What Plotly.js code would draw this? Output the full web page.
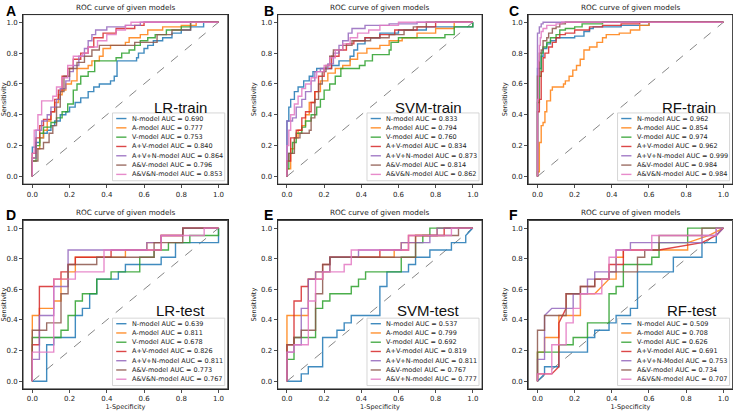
<!DOCTYPE html>
<html>
<head>
<meta charset="utf-8">
<script src="https://cdn.plot.ly/plotly-3.0.1.min.js"></script>
<style>
  html, body { margin: 0; padding: 0; background: #fff; }
  #chart { width: 733px; height: 412px; }
</style>
</head>
<body>
<div id="chart"></div>
<script>
// ---- data ----
const colors = ["#1f77b4", "#ff7f0e", "#2ca02c", "#d62728", "#9467bd", "#8c564b", "#e377c2"];
const panelLetters = ["A", "B", "C", "D", "E", "F"];
const panelTags = ["LR-train", "SVM-train", "RF-train", "LR-test", "SVM-test", "RF-test"];
const panelTitle = "ROC curve of given models";
const tickVals = [0, 0.2, 0.4, 0.6, 0.8, 1.0];
const diagX = [0, 1];
const diagY = [0, 1];

const labelsStd = ["N-model", "A-model", "V-model", "A+V-model", "A+V+N-model", "A&V-model", "A&V&N-model"];
const labelsSvmTest = ["N-model", "A-model", "V-model", "A+V-model", "A+V+N-model", "A&V-model", "A&V+N-model"];
const labelsRfTest = ["N-model", "A-model", "V-model", "A+V-model", "A+V+N-Model", "A&V-model", "A&V&N-model"];

const aucLrTrain = [0.690, 0.777, 0.753, 0.840, 0.864, 0.796, 0.853];
const aucSvmTrain = [0.833, 0.794, 0.760, 0.834, 0.873, 0.814, 0.862];
const aucRfTrain = [0.962, 0.854, 0.974, 0.962, 0.999, 0.984, 0.984];
const aucLrTest = [0.639, 0.811, 0.678, 0.826, 0.811, 0.773, 0.767];
const aucSvmTest = [0.537, 0.799, 0.692, 0.819, 0.811, 0.767, 0.777];
const aucRfTest = [0.509, 0.708, 0.626, 0.691, 0.753, 0.734, 0.707];

// train curves: [fpr, tpr reached at that fpr] (drawn as steps)
const lrTrainRoc = [
  [[0,0],[0,0.19],[0.02,0.22],[0.04,0.25],[0.06,0.28],[0.08,0.3],[0.1,0.33],[0.12,0.36],[0.15,0.4],[0.18,0.42],[0.2,0.45],[0.23,0.48],[0.26,0.51],[0.3,0.55],[0.33,0.58],[0.36,0.6],[0.42,0.62],[0.44,0.65],[0.455,0.75],[0.56,0.77],[0.57,0.8],[0.6,0.83],[0.62,0.85],[0.65,0.88],[0.7,0.9],[0.75,0.93],[0.8,0.95],[0.85,0.97],[0.92,1],[1,1]],
  [[0,0],[0,0.12],[0.02,0.18],[0.04,0.25],[0.06,0.3],[0.08,0.36],[0.1,0.42],[0.12,0.48],[0.14,0.53],[0.16,0.56],[0.18,0.6],[0.21,0.62],[0.24,0.7],[0.3,0.72],[0.32,0.75],[0.36,0.78],[0.38,0.83],[0.42,0.85],[0.5,0.87],[0.52,0.9],[0.58,0.92],[0.62,0.95],[0.7,0.97],[0.8,0.98],[0.88,1],[1,1]],
  [[0,0],[0,0.1],[0.02,0.2],[0.04,0.28],[0.06,0.32],[0.1,0.35],[0.13,0.38],[0.16,0.42],[0.19,0.47],[0.22,0.56],[0.24,0.6],[0.26,0.65],[0.3,0.68],[0.335,0.75],[0.45,0.77],[0.48,0.8],[0.52,0.82],[0.55,0.85],[0.58,0.88],[0.62,0.9],[0.66,0.92],[0.72,0.95],[0.8,0.97],[0.85,1],[1,1]],
  [[0,0],[0,0.15],[0.02,0.25],[0.04,0.33],[0.06,0.37],[0.1,0.42],[0.12,0.5],[0.14,0.56],[0.16,0.65],[0.19,0.7],[0.22,0.76],[0.26,0.8],[0.3,0.84],[0.33,0.9],[0.38,0.93],[0.45,0.96],[0.55,0.98],[0.6,1],[1,1]],
  [[0,0],[0,0.12],[0.02,0.3],[0.05,0.36],[0.08,0.4],[0.1,0.45],[0.13,0.5],[0.15,0.57],[0.18,0.62],[0.2,0.68],[0.22,0.72],[0.25,0.78],[0.28,0.83],[0.3,0.88],[0.32,0.92],[0.34,0.95],[0.4,0.97],[0.5,0.98],[0.58,1],[1,1]],
  [[0,0],[0,0.1],[0.03,0.18],[0.06,0.22],[0.09,0.28],[0.11,0.33],[0.13,0.45],[0.15,0.55],[0.17,0.65],[0.2,0.7],[0.24,0.74],[0.28,0.78],[0.32,0.82],[0.36,0.85],[0.55,0.87],[0.67,0.92],[0.75,0.95],[0.85,1],[1,1]],
  [[0,0],[0,0.15],[0.01,0.3],[0.03,0.4],[0.05,0.49],[0.11,0.52],[0.13,0.58],[0.16,0.64],[0.19,0.72],[0.22,0.78],[0.27,0.8],[0.3,0.84],[0.35,0.88],[0.4,0.92],[0.45,0.95],[0.5,0.98],[0.53,1],[1,1]]
];

const svmTrainRoc = [
  [[0,0],[0,0.36],[0.01,0.45],[0.02,0.5],[0.04,0.55],[0.06,0.58],[0.09,0.62],[0.12,0.65],[0.14,0.68],[0.16,0.7],[0.24,0.72],[0.28,0.75],[0.34,0.78],[0.36,0.82],[0.38,0.86],[0.42,0.9],[0.5,0.93],[0.6,0.95],[0.75,0.97],[1,1]],
  [[0,0],[0,0.05],[0.02,0.18],[0.04,0.25],[0.06,0.3],[0.08,0.33],[0.1,0.4],[0.12,0.48],[0.15,0.55],[0.18,0.62],[0.22,0.67],[0.26,0.7],[0.3,0.72],[0.34,0.76],[0.38,0.8],[0.43,0.83],[0.5,0.85],[0.55,0.88],[0.62,0.9],[0.7,0.93],[0.8,0.96],[0.9,1],[1,1]],
  [[0,0],[0,0.05],[0.01,0.15],[0.03,0.22],[0.05,0.28],[0.08,0.32],[0.1,0.36],[0.13,0.4],[0.16,0.45],[0.18,0.5],[0.2,0.56],[0.23,0.6],[0.26,0.65],[0.29,0.7],[0.39,0.72],[0.42,0.75],[0.46,0.79],[0.55,0.82],[0.56,0.87],[0.6,0.9],[0.85,0.92],[0.9,0.97],[1,1]],
  [[0,0],[0,0.1],[0.02,0.25],[0.05,0.3],[0.08,0.38],[0.1,0.42],[0.13,0.48],[0.15,0.55],[0.17,0.65],[0.2,0.7],[0.24,0.78],[0.28,0.82],[0.32,0.86],[0.36,0.88],[0.42,0.9],[0.5,0.92],[0.58,0.95],[0.7,0.97],[0.8,1],[1,1]],
  [[0,0],[0,0.36],[0.03,0.38],[0.05,0.45],[0.08,0.5],[0.1,0.55],[0.13,0.62],[0.15,0.68],[0.18,0.7],[0.22,0.73],[0.25,0.8],[0.28,0.85],[0.3,0.88],[0.33,0.93],[0.35,0.96],[0.42,0.98],[0.55,0.99],[0.7,1],[1,1]],
  [[0,0],[0,0.1],[0.01,0.15],[0.04,0.25],[0.07,0.28],[0.12,0.3],[0.13,0.38],[0.15,0.5],[0.17,0.6],[0.19,0.68],[0.21,0.72],[0.23,0.78],[0.25,0.82],[0.3,0.85],[0.35,0.88],[0.45,0.9],[0.55,0.92],[0.63,0.95],[0.68,0.97],[0.75,1],[1,1]],
  [[0,0],[0,0.2],[0.01,0.3],[0.02,0.4],[0.04,0.47],[0.06,0.52],[0.08,0.57],[0.1,0.6],[0.13,0.64],[0.16,0.68],[0.2,0.72],[0.23,0.77],[0.26,0.82],[0.3,0.86],[0.34,0.9],[0.38,0.93],[0.44,0.95],[0.5,0.98],[0.6,1],[1,1]]
];

const rfTrainRoc = [
  [[0,0],[0,0.7],[0.02,0.78],[0.03,0.83],[0.05,0.86],[0.07,0.88],[0.1,0.9],[0.2,0.91],[0.25,0.94],[0.28,0.96],[0.3,0.97],[0.45,0.98],[0.6,1],[1,1]],
  [[0,0],[0,0.03],[0.01,0.22],[0.02,0.33],[0.03,0.35],[0.04,0.42],[0.05,0.49],[0.07,0.56],[0.08,0.58],[0.14,0.6],[0.15,0.62],[0.17,0.65],[0.19,0.69],[0.21,0.72],[0.23,0.76],[0.25,0.82],[0.28,0.84],[0.32,0.87],[0.35,0.9],[0.37,0.92],[0.44,0.93],[0.5,0.95],[0.55,0.98],[0.6,1],[1,1]],
  [[0,0],[0,0.48],[0.01,0.65],[0.02,0.8],[0.03,0.84],[0.05,0.87],[0.07,0.9],[0.1,0.92],[0.12,0.95],[0.15,0.96],[0.2,0.97],[0.24,0.99],[0.35,1],[1,1]],
  [[0,0],[0,0.42],[0.01,0.5],[0.02,0.68],[0.03,0.77],[0.04,0.8],[0.06,0.84],[0.08,0.87],[0.1,0.9],[0.12,0.92],[0.15,0.93],[0.2,0.95],[0.28,0.97],[0.35,0.98],[0.45,0.99],[0.55,1],[1,1]],
  [[0,0],[0,0.93],[0.01,0.97],[0.02,0.99],[0.03,1],[1,1]],
  [[0,0],[0,0.65],[0.01,0.8],[0.02,0.82],[0.03,0.88],[0.05,0.9],[0.06,0.93],[0.08,0.96],[0.1,0.97],[0.12,0.99],[0.15,1],[1,1]],
  [[0,0],[0,0.5],[0.005,0.75],[0.01,0.85],[0.015,0.9],[0.02,0.94],[0.03,0.96],[0.05,0.98],[0.1,0.99],[0.13,1],[1,1]]
];

// test curves: corner points [fpr, tpr]
const lrTestRoc = [
  [[0,0],[0.077,0],[0.077,0.238],[0.115,0.238],[0.115,0.286],[0.231,0.286],[0.231,0.429],[0.269,0.429],[0.269,0.476],[0.308,0.476],[0.308,0.571],[0.346,0.571],[0.346,0.667],[0.462,0.667],[0.462,0.714],[0.5,0.714],[0.5,0.762],[0.692,0.762],[0.692,0.81],[0.769,0.81],[0.769,0.905],[1,0.905],[1,1]],
  [[0,0],[0,0.429],[0.038,0.429],[0.038,0.476],[0.115,0.476],[0.115,0.524],[0.154,0.524],[0.154,0.667],[0.192,0.667],[0.192,0.714],[0.231,0.714],[0.231,0.81],[0.5,0.81],[0.5,0.857],[0.615,0.857],[0.615,0.905],[0.692,0.905],[0.692,0.952],[0.808,0.952],[0.808,1],[1,1]],
  [[0,0],[0,0.286],[0.154,0.286],[0.154,0.333],[0.192,0.333],[0.192,0.429],[0.231,0.429],[0.231,0.524],[0.269,0.524],[0.269,0.571],[0.346,0.571],[0.346,0.667],[0.423,0.667],[0.423,0.714],[0.577,0.714],[0.577,0.81],[0.654,0.81],[0.654,0.857],[0.731,0.857],[0.731,0.905],[0.846,0.905],[0.846,0.952],[1,0.952],[1,1]],
  [[0,0],[0,0.238],[0.038,0.238],[0.038,0.619],[0.115,0.619],[0.115,0.667],[0.154,0.667],[0.154,0.714],[0.192,0.714],[0.192,0.762],[0.231,0.762],[0.231,0.81],[0.423,0.81],[0.423,0.857],[0.692,0.857],[0.692,0.952],[0.808,0.952],[0.808,1],[1,1]],
  [[0,0],[0,0.143],[0.038,0.143],[0.038,0.429],[0.115,0.429],[0.115,0.619],[0.192,0.619],[0.192,0.857],[0.615,0.857],[0.615,0.905],[0.692,0.905],[0.692,0.952],[0.808,0.952],[0.808,1],[1,1]],
  [[0,0],[0,0.333],[0.077,0.333],[0.077,0.381],[0.154,0.381],[0.154,0.571],[0.192,0.571],[0.192,0.762],[0.346,0.762],[0.346,0.81],[0.654,0.81],[0.654,0.905],[0.808,0.905],[0.808,1],[1,1]],
  [[0,0],[0,0.19],[0.115,0.19],[0.115,0.667],[0.231,0.667],[0.231,0.714],[0.385,0.714],[0.385,0.857],[0.692,0.857],[0.692,0.952],[0.923,0.952],[0.923,1],[1,1]]
];

const svmTestRoc = [
  [[0,0],[0.077,0],[0.077,0.048],[0.115,0.048],[0.115,0.095],[0.192,0.095],[0.192,0.286],[0.269,0.286],[0.269,0.333],[0.308,0.333],[0.308,0.381],[0.346,0.381],[0.346,0.429],[0.5,0.429],[0.5,0.619],[0.538,0.619],[0.538,0.714],[0.654,0.714],[0.654,0.762],[0.692,0.762],[0.692,0.81],[0.769,0.81],[0.769,0.857],[0.885,0.857],[0.885,0.905],[0.962,0.905],[0.962,0.952],[1,1]],
  [[0,0],[0,0.429],[0.115,0.429],[0.115,0.667],[0.154,0.667],[0.154,0.714],[0.231,0.714],[0.231,0.81],[0.577,0.81],[0.577,0.857],[0.615,0.857],[0.615,0.905],[0.692,0.905],[0.692,0.952],[0.808,0.952],[0.808,1],[1,1]],
  [[0,0],[0,0.143],[0.038,0.143],[0.038,0.286],[0.154,0.286],[0.154,0.476],[0.192,0.476],[0.192,0.524],[0.231,0.524],[0.231,0.571],[0.346,0.571],[0.346,0.619],[0.385,0.619],[0.385,0.667],[0.423,0.667],[0.423,0.714],[0.615,0.714],[0.615,0.81],[0.692,0.81],[0.692,0.905],[0.731,0.905],[0.731,0.952],[0.769,0.952],[0.769,1],[1,1]],
  [[0,0],[0,0.238],[0.038,0.238],[0.038,0.524],[0.077,0.524],[0.077,0.619],[0.115,0.619],[0.115,0.667],[0.192,0.667],[0.192,0.762],[0.231,0.762],[0.231,0.81],[0.5,0.81],[0.5,0.857],[0.654,0.857],[0.654,0.952],[0.846,0.952],[0.846,1],[1,1]],
  [[0,0],[0,0.19],[0.038,0.19],[0.038,0.238],[0.077,0.238],[0.077,0.476],[0.115,0.476],[0.115,0.667],[0.154,0.667],[0.154,0.714],[0.231,0.714],[0.231,0.81],[0.385,0.81],[0.385,0.857],[0.615,0.857],[0.615,0.905],[0.769,0.905],[0.769,0.952],[0.808,0.952],[0.808,1],[1,1]],
  [[0,0],[0,0.238],[0.038,0.238],[0.038,0.286],[0.077,0.286],[0.077,0.333],[0.154,0.333],[0.154,0.571],[0.192,0.571],[0.192,0.762],[0.231,0.762],[0.231,0.81],[0.692,0.81],[0.692,0.952],[0.923,0.952],[0.923,1],[1,1]],
  [[0,0],[0,0.19],[0.038,0.19],[0.038,0.238],[0.115,0.238],[0.115,0.524],[0.154,0.524],[0.154,0.667],[0.192,0.667],[0.192,0.714],[0.308,0.714],[0.308,0.762],[0.346,0.762],[0.346,0.857],[0.654,0.857],[0.654,0.952],[0.885,0.952],[0.885,1],[1,1]]
];

const rfTestRoc = [
  [[0,0],[0.038,0.048],[0.038,0.095],[0.115,0.095],[0.115,0.19],[0.269,0.19],[0.269,0.286],[0.308,0.286],[0.308,0.333],[0.385,0.333],[0.385,0.381],[0.423,0.381],[0.423,0.429],[0.5,0.429],[0.5,0.476],[0.538,0.476],[0.538,0.714],[0.731,0.714],[0.731,0.81],[0.885,0.81],[0.885,0.905],[0.962,0.905],[0.962,1],[1,1]],
  [[0,0],[0,0.19],[0.038,0.19],[0.038,0.286],[0.115,0.286],[0.115,0.429],[0.231,0.429],[0.231,0.571],[0.308,0.571],[0.346,0.619],[0.385,0.667],[0.423,0.667],[0.423,0.81],[0.462,0.81],[0.462,0.857],[0.808,0.857],[0.808,0.905],[0.923,0.952],[1,1]],
  [[0,0],[0,0.19],[0.115,0.19],[0.115,0.238],[0.192,0.238],[0.192,0.286],[0.269,0.286],[0.269,0.381],[0.385,0.381],[0.385,0.571],[0.423,0.571],[0.423,0.619],[0.462,0.619],[0.462,0.762],[0.615,0.762],[0.615,0.81],[0.654,0.81],[0.654,0.905],[0.808,0.905],[0.808,1],[1,1]],
  [[0,0],[0,0.048],[0.077,0.048],[0.115,0.095],[0.115,0.381],[0.154,0.476],[0.154,0.571],[0.231,0.571],[0.231,0.619],[0.308,0.619],[0.308,0.667],[0.385,0.667],[0.385,0.762],[0.462,0.762],[0.462,0.857],[0.654,0.857],[0.885,0.905],[0.962,0.952],[1,1]],
  [[0,0],[0,0.143],[0.038,0.143],[0.038,0.429],[0.077,0.476],[0.192,0.476],[0.192,0.571],[0.269,0.571],[0.269,0.667],[0.308,0.667],[0.308,0.714],[0.423,0.714],[0.423,0.857],[0.5,0.857],[0.5,0.905],[0.885,0.905],[0.885,0.952],[0.962,0.952],[1,1]],
  [[0,0],[0,0.333],[0.038,0.333],[0.038,0.429],[0.154,0.429],[0.154,0.571],[0.231,0.571],[0.231,0.619],[0.308,0.619],[0.308,0.667],[0.385,0.667],[0.385,0.714],[0.538,0.714],[0.538,0.81],[0.577,0.81],[0.577,0.857],[0.654,0.857],[0.654,0.952],[0.885,0.952],[0.885,1],[1,1]],
  [[0,0],[0,0.048],[0.077,0.048],[0.077,0.238],[0.154,0.238],[0.154,0.381],[0.192,0.381],[0.192,0.476],[0.231,0.476],[0.231,0.571],[0.346,0.571],[0.346,0.667],[0.385,0.667],[0.385,0.81],[0.423,0.81],[0.423,0.857],[0.615,0.857],[0.615,0.952],[0.962,0.952],[0.962,1],[1,1]]
];

// ---- panel setup ----
const panels = [
  { roc: lrTrainRoc, auc: aucLrTrain, labels: labelsStd, shape: "hv" },
  { roc: svmTrainRoc, auc: aucSvmTrain, labels: labelsStd, shape: "hv" },
  { roc: rfTrainRoc, auc: aucRfTrain, labels: labelsStd, shape: "hv" },
  { roc: lrTestRoc, auc: aucLrTest, labels: labelsStd, shape: "linear" },
  { roc: svmTestRoc, auc: aucSvmTest, labels: labelsSvmTest, shape: "linear" },
  { roc: rfTestRoc, auc: aucRfTest, labels: labelsRfTest, shape: "linear" }
];

const colDomains = [[0.0314, 0.3108], [0.3788, 0.6577], [0.7206, 0.9995]];
const rowDomains = [[0.553, 0.9646], [0.056, 0.465]];
const tagX = [0.91, 0.91, 0.928, 0.898, 0.90, 0.935];

const font = "DejaVu Sans, sans-serif";
const traces = [];
const shapes = [];
const annotations = [];
const layout = {
  width: 733,
  height: 412,
  margin: { l: 0, r: 0, t: 0, b: 0 },
  paper_bgcolor: "#fff",
  plot_bgcolor: "#fff",
  showlegend: false,
  font: { family: font, color: "#222" }
};

panels.forEach((p, k) => {
  const n = k + 1;
  const xa = n === 1 ? "x" : "x" + n;
  const ya = n === 1 ? "y" : "y" + n;
  const row = k < 3 ? 0 : 1;
  const col = k % 3;

  // dashed chance line
  traces.push({
    x: diagX, y: diagY, xaxis: xa, yaxis: ya, type: "scatter", mode: "lines",
    line: { color: "#666", width: 0.8, dash: "dash" }, hoverinfo: "skip"
  });

  p.roc.forEach((pts, i) => {
    traces.push({
      x: pts.map(d => d[0]),
      y: pts.map(d => d[1]),
      xaxis: xa, yaxis: ya, type: "scatter", mode: "lines",
      line: { color: colors[i], width: 1.4, shape: p.shape },
      opacity: 0.85,
      name: p.labels[i]
    });
  });

  const axisCommon = {
    range: [-0.05, 1.05], tickvals: tickVals, tickformat: ".1f",
    showgrid: false, zeroline: false,
    showline: true, mirror: true, linecolor: "#222", linewidth: 1,
    ticks: "outside", ticklen: 3, tickwidth: 0.8, tickcolor: "#222",
    tickfont: { size: 7, color: "#222", family: font }
  };
  layout["xaxis" + (n === 1 ? "" : n)] = Object.assign({}, axisCommon, {
    domain: colDomains[col], anchor: ya,
    title: row === 1 ? { text: "1-Specificity", font: { size: 6.5 }, standoff: 1 } : { text: "" }
  });
  layout["yaxis" + (n === 1 ? "" : n)] = Object.assign({}, axisCommon, {
    domain: rowDomains[row], anchor: xa,
    title: { text: "Sensitivity", font: { size: 6.5 }, standoff: 3 }
  });

  const xd = xa + " domain";
  const yd = ya + " domain";

  // axes frame
  shapes.push({
    type: "rect", xref: xd, yref: yd, x0: 0, x1: 1, y0: 0, y1: 1,
    line: { color: "#333", width: 1 }, layer: "above"
  });

  // subplot title
  annotations.push({
    xref: xd, yref: yd, x: 0.5, y: 1, yanchor: "bottom", yshift: 1,
    text: panelTitle, showarrow: false, font: { size: 7.3, family: font, color: "#222" }
  });

  // panel letter
  annotations.push({
    xref: "paper", yref: "paper",
    x: [0.006, 0.357, 0.692][col], y: row === 0 ? 0.997 : 0.502,
    xanchor: "left", yanchor: "top",
    text: "<b>" + panelLetters[k] + "</b>", showarrow: false,
    font: { size: 14, family: "Liberation Sans, Arial, sans-serif", color: "#000" }
  });

  // model / set tag
  annotations.push({
    xref: xd, yref: yd, x: tagX[k], y: row === 0 ? 0.454 : 0.463,
    xanchor: "right", yanchor: "middle",
    text: panelTags[k], showarrow: false,
    font: { size: 15, family: "Liberation Sans, Arial, sans-serif", color: "#111" }
  });

  // legend box
  shapes.push({
    type: "rect", xref: xd, yref: yd, x0: 0.437, x1: 0.985, y0: 0.02, y1: 0.42,
    fillcolor: "rgba(255,255,255,0.85)", line: { color: "#cccccc", width: 0.8 }
  });
  p.labels.forEach((lab, i) => {
    const yy = 0.387 - i * 0.0549;
    shapes.push({
      type: "line", xref: xd, yref: yd, x0: 0.455, x1: 0.505, y0: yy, y1: yy,
      line: { color: colors[i], width: 1.4 }, opacity: 0.85
    });
    annotations.push({
      xref: xd, yref: yd, x: 0.522, y: yy, xanchor: "left", yanchor: "middle",
      text: lab + " AUC = " + p.auc[i].toFixed(3), showarrow: false,
      font: { size: 6.5, family: font, color: "#222" }
    });
  });
});

layout.shapes = shapes;
layout.annotations = annotations;

Plotly.newPlot("chart", traces, layout, { staticPlot: true, displayModeBar: false });
</script>
</body>
</html>
